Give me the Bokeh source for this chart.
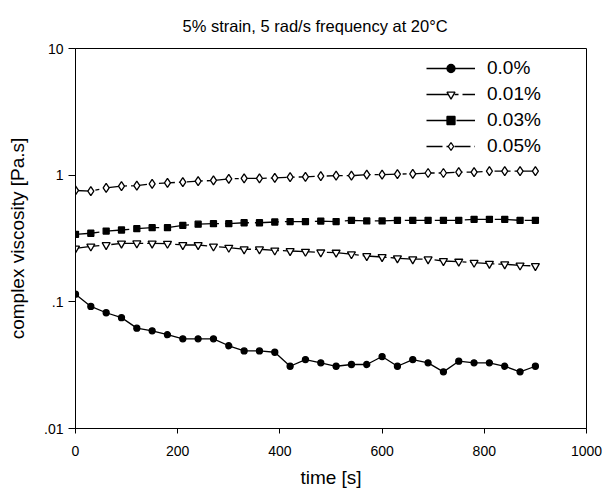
from bokeh.plotting import figure
from bokeh.models import FixedTicker, Legend, LegendItem, Range1d
from bokeh.embed import file_html
from bokeh.resources import INLINE

# ---- data ----
time_s = [0, 30, 60, 90, 120, 150, 180, 210, 240, 270, 300, 330, 360, 390, 420, 450,
          480, 510, 540, 570, 600, 630, 660, 690, 720, 750, 780, 810, 840, 870, 900]

visc_000 = [0.115, 0.092, 0.082, 0.075, 0.062, 0.059, 0.055, 0.051, 0.051, 0.051, 0.045,
            0.041, 0.041, 0.040, 0.031, 0.035, 0.033, 0.031, 0.032, 0.032, 0.037, 0.031,
            0.035, 0.033, 0.028, 0.034, 0.033, 0.033, 0.031, 0.028, 0.031]
visc_001 = [0.264, 0.274, 0.281, 0.289, 0.290, 0.289, 0.288, 0.281, 0.281, 0.274, 0.268,
            0.260, 0.260, 0.255, 0.252, 0.249, 0.246, 0.245, 0.238, 0.230, 0.226, 0.221,
            0.217, 0.217, 0.210, 0.208, 0.204, 0.200, 0.198, 0.194, 0.192]
visc_003 = [0.341, 0.348, 0.362, 0.369, 0.378, 0.385, 0.385, 0.402, 0.410, 0.414, 0.414,
            0.421, 0.421, 0.427, 0.430, 0.430, 0.434, 0.430, 0.440, 0.435, 0.435, 0.440,
            0.440, 0.440, 0.440, 0.440, 0.448, 0.448, 0.448, 0.440, 0.440]
visc_005 = [0.757, 0.748, 0.794, 0.819, 0.828, 0.855, 0.870, 0.881, 0.897, 0.908, 0.936,
            0.942, 0.942, 0.952, 0.964, 0.970, 0.982, 0.990, 0.990, 1.010, 1.010, 1.020,
            1.025, 1.040, 1.040, 1.055, 1.055, 1.075, 1.075, 1.075, 1.075]

series_labels = ["0.0%", "0.01%", "0.03%", "0.05%"]
x_ticks = [0, 200, 400, 600, 800, 1000]
y_ticks = [0.01, 0.1, 1, 10]
y_tick_labels = [".01", ".1", "1", "10"]

title_text = "5% strain, 5 rad/s frequency at 20\u00b0C"
x_label = "time [s]"
y_label = "complex viscosity [Pa.s]"

FONT = "Liberation Sans"

p = figure(width=603, height=492, y_axis_type="log",
           x_range=Range1d(0, 1000), y_range=Range1d(0.01, 10),
           output_backend="svg", toolbar_location=None,
           min_border_left=75, min_border_right=17, min_border_top=47, min_border_bottom=64)

p.title.text = title_text
p.title.align = "left"
p.title.offset = 107
p.title.standoff = 28
p.title.text_font = FONT
p.title.text_font_size = "16.5px"
p.title.text_font_style = "normal"
p.title.text_color = "black"

p.xgrid.visible = False
p.ygrid.visible = False
p.outline_line_color = "black"
p.outline_line_width = 1
p.outline_line_alpha = 1
p.background_fill_color = "white"
p.border_fill_color = "white"

# axes
p.xaxis.ticker = FixedTicker(ticks=x_ticks)
p.yaxis.ticker = FixedTicker(ticks=y_ticks)
p.yaxis.major_label_overrides = {t: l for t, l in zip(y_ticks, y_tick_labels)}
for ax in (p.xaxis[0], p.yaxis[0]):
    ax.axis_line_color = "black"
    ax.major_tick_line_color = "black"
    ax.minor_tick_line_color = None
    ax.major_tick_in = 0
    ax.major_label_text_font = FONT
    ax.major_label_text_font_size = "14px"
    ax.major_label_text_color = "black"
    ax.axis_label_text_font = FONT
    ax.axis_label_text_font_size = "19px"
    ax.axis_label_text_font_style = "normal"
    ax.axis_label_text_color = "black"
p.xaxis.major_tick_out = 5
p.yaxis.major_tick_out = 7
p.xaxis.major_label_standoff = 12
p.yaxis.major_label_standoff = 5
p.xaxis.axis_label = x_label
p.yaxis.axis_label = y_label
p.xaxis.axis_label_standoff = 8
p.yaxis.axis_label_standoff = 13

styles = [
    dict(marker="circle", size=6, fill="black", dash="solid"),
    dict(marker="inverted_triangle", size=8, fill="white", dash="24 4 4 4"),
    dict(marker="square", size=6, fill="black", dash="24 6"),
    dict(marker="diamond", size=9, fill="white", dash="16 4 4 4"),
]
all_y = [visc_000, visc_001, visc_003, visc_005]

items = []
for lab, ys, st in zip(series_labels, all_y, styles):
    ln = p.line(time_s, ys, line_color="black", line_width=1.3, line_dash=st["dash"])
    sc = p.scatter(time_s, ys, marker=st["marker"], size=st["size"],
                   fill_color=st["fill"], line_color="black", line_width=1.3)
    items.append(LegendItem(label=lab, renderers=[ln, sc]))

legend = Legend(items=items, location=(351, 271))
legend.border_line_color = None
legend.background_fill_alpha = 0
legend.padding = 5
legend.margin = 0
legend.spacing = 4
legend.glyph_width = 49
legend.glyph_height = 20
legend.label_height = 20
legend.label_standoff = 12
legend.label_text_font = FONT
legend.label_text_font_size = "19px"
legend.label_text_color = "black"
p.add_layout(legend)

open("out.html", "w").write(file_html(p, INLINE))
